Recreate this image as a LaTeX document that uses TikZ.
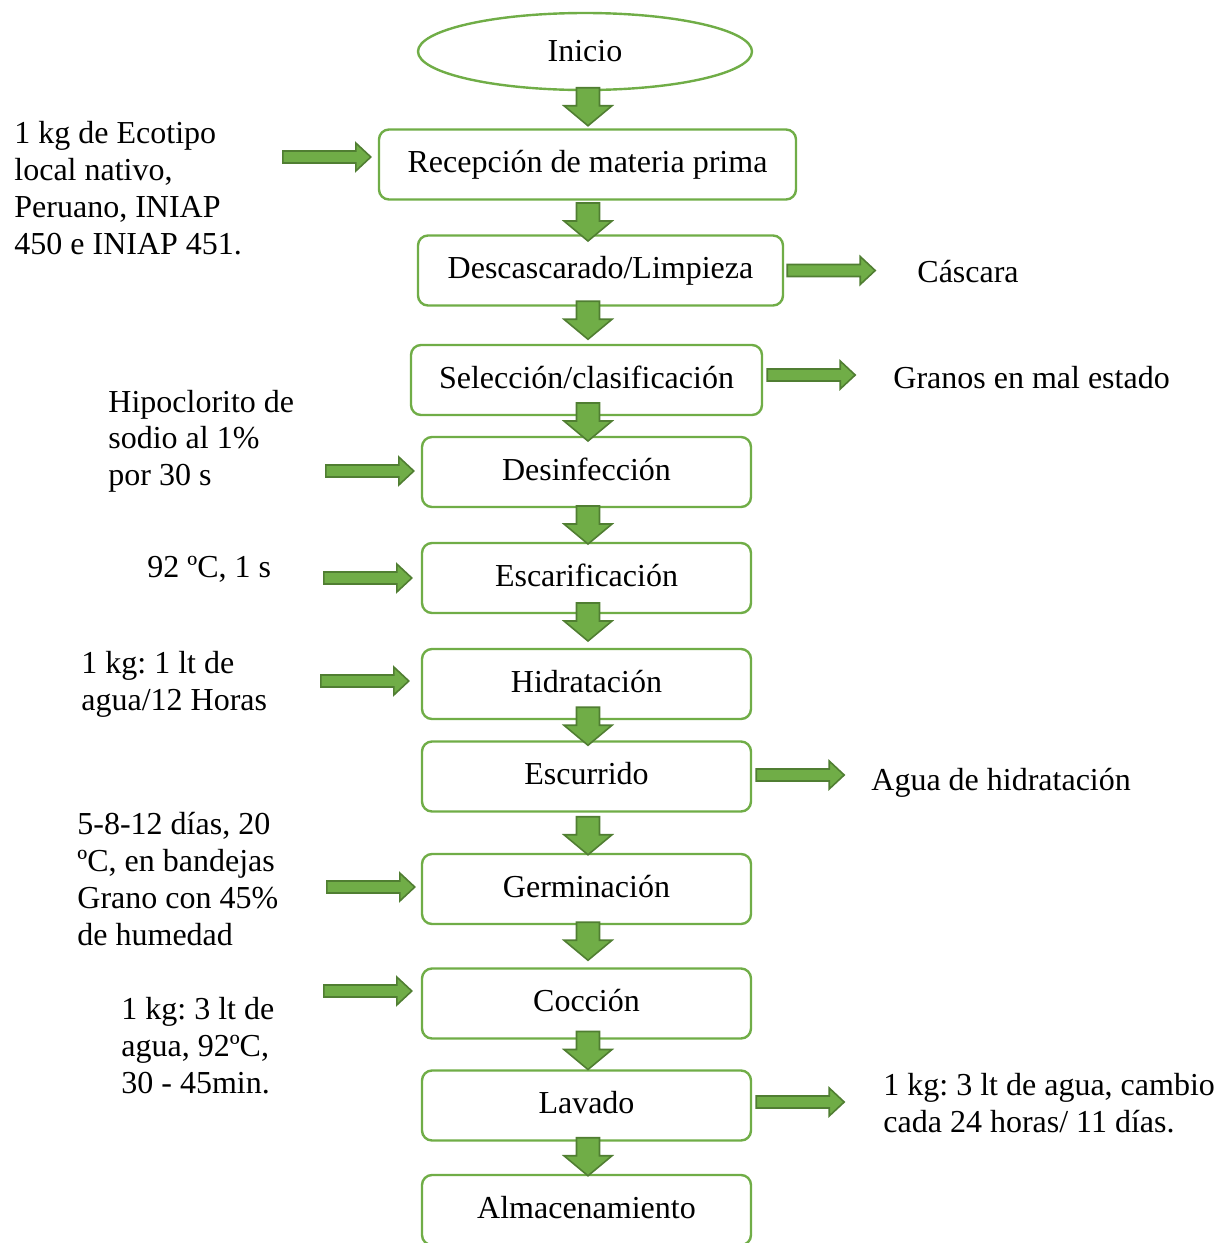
\documentclass[tikz,border=0pt]{standalone}
\usepackage{fontspec}
\setmainfont{Liberation Serif}
\usetikzlibrary{calc,shapes.geometric}
\frenchspacing

\definecolor{boxgreen}{HTML}{70AD47}
\definecolor{arrgreen}{HTML}{70AD47}
\definecolor{arrdark}{HTML}{507E32}

\tikzset{
  stage/.style={draw=boxgreen, line width=1.2pt, rounded corners=5pt, fill=white,
    minimum width=164.5pt, minimum height=35pt, inner xsep=2pt,
    text height=10pt, text depth=2pt, font=\fontsize{16}{18.35}\selectfont},
  inicio/.style={draw=boxgreen, line width=1.2pt, ellipse, minimum width=167pt,
    minimum height=38.5pt, inner sep=0pt, text height=10pt, text depth=0pt,
    font=\fontsize{16}{18.35}\selectfont},
  note/.style={align=left, anchor=base west, inner sep=0pt,
    font=\fontsize{16}{18.35}\selectfont},
  blk/.style={fill=arrgreen, draw=arrdark, line width=0.8pt, line join=miter}
}

% flecha hacia abajo entre dos etapas
\newcommand{\dnarr}[3][0]{%
  \filldraw[blk] let \p1=($(#2.south)!0.5!(#3.north)+(0,#1)$), \p2=(col) in
    (\x2-5.75pt,\y1+9.5pt) -- (\x2+5.75pt,\y1+9.5pt) -- (\x2+5.75pt,\y1+0.5pt)
    -- (\x2+12pt,\y1+0.5pt) -- (\x2,\y1-9.5pt) -- (\x2-12pt,\y1+0.5pt)
    -- (\x2-5.75pt,\y1+0.5pt) -- cycle;}
% flecha de entrada a una etapa
\newcommand{\inarr}[3]{%
  \filldraw[blk] let \p1=($(#1.west)+(-#2,#3)$) in
    (\x1,\y1) -- (\x1-7.5pt,\y1+7pt) -- (\x1-7.5pt,\y1+3pt) -- (\x1-44pt,\y1+3pt)
    -- (\x1-44pt,\y1-3pt) -- (\x1-7.5pt,\y1-3pt) -- (\x1-7.5pt,\y1-7pt) -- cycle;}
% flecha de salida de una etapa
\newcommand{\outarr}[3]{%
  \filldraw[blk] let \p1=($(#1.east)+(#2,#3)$) in
    (\x1,\y1+3pt) -- (\x1+36.5pt,\y1+3pt) -- (\x1+36.5pt,\y1+7pt) -- (\x1+44pt,\y1)
    -- (\x1+36.5pt,\y1-7pt) -- (\x1+36.5pt,\y1-3pt) -- (\x1,\y1-3pt) -- cycle;}

\begin{document}
\begin{tikzpicture}[x=0.5pt, y=-0.5pt]
  \useasboundingbox (0,0) rectangle (1230,1243);
  \coordinate (col) at (588,0);

  % etapas del proceso
  \node[inicio] (ini) at (585,51.5) {Inicio};
  \node[stage, minimum width=208.5pt] (rec) at (587.5,164.5) {Recepción de materia prima};
  \node[stage, minimum width=182.5pt] (desc) at (600.5,270.5) {Descascarado/Limpieza};
  \node[stage, minimum width=175.5pt] (sel) at (586.5,380) {Selección/clasificación};
  \node[stage] (des) at (586.5,472) {Desinfección};
  \node[stage] (esc) at (586.5,578) {Escarificación};
  \node[stage] (hid) at (586.5,684) {Hidratación};
  \node[stage] (escu) at (586.5,776.5) {Escurrido};
  \node[stage] (germ) at (586.5,889) {Germinación};
  \node[stage] (coc) at (586.5,1003.5) {Cocción};
  \node[stage] (lav) at (586.5,1105.5) {Lavado};
  \node[stage] (alm) at (586.5,1210) {Almacenamiento};

  \dnarr[-3]{ini}{rec}
  \dnarr[4.5]{rec}{desc}
  \dnarr[-5]{desc}{sel}
  \dnarr[-4]{sel}{des}
  \dnarr{des}{esc}
  \dnarr[-9]{esc}{hid}
  \dnarr[-4]{hid}{escu}
  \dnarr[3]{escu}{germ}
  \dnarr[-5]{germ}{coc}
  \dnarr[-4]{coc}{lav}
  \dnarr[-1]{lav}{alm}

  % entradas (base = ultima linea)
  \node[note] (eco) at (14,254) {1 kg de Ecotipo\\local nativo,\\Peruano, INIAP\\450 e INIAP 451.};
  \node[note] (hipo) at (108,485.5) {Hipoclorito de\\sodio al 1\%\\por 30 s};
  \node[note] (temp) at (147,577) {92 ºC, 1 s};
  \node[note] (agua) at (81,710) {1 kg: 1 lt de\\agua/12 Horas};
  \node[note] (dias) at (77,945) {5-8-12 días, 20\\ºC, en bandejas\\Grano con 45\%\\de humedad};
  \node[note] (cocc) at (121,1093) {1 kg: 3 lt de\\agua, 92ºC,\\30 - 45min.};
  \inarr{rec}{7}{-7.5}
  \inarr{des}{7}{-1}
  \inarr{esc}{9}{0}
  \inarr{hid}{12}{-3}
  \inarr{germ}{6}{-2}
  \inarr{coc}{9}{-12.5}

  % salidas
  \node[note] (casc) at (917,282) {Cáscara};
  \node[note] (gran) at (893,388) {Granos en mal estado};
  \node[note] (hidr) at (871,790) {Agua de hidratación};
  \node[note] (camb) at (883,1132) {1 kg: 3 lt de agua, cambio\\cada 24 horas/ 11 días.};
  \outarr{desc}{3}{0}
  \outarr{sel}{4}{-5}
  \outarr{escu}{4}{-1.5}
  \outarr{lav}{4}{-3.5}
\end{tikzpicture}
\end{document}
